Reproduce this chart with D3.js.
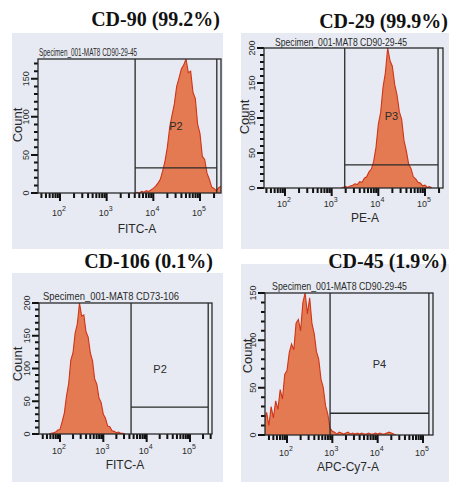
<!DOCTYPE html>
<html lang="en">
<head>
<meta charset="UTF-8">
<title>Flow cytometry histograms</title>
<script src="https://cdn.jsdelivr.net/npm/d3@7"></script>
<style>
  body { margin: 0; background: #fff; }
  svg text { font-family: "Liberation Sans Narrow", "Liberation Sans", Arial, sans-serif; fill: #2a2a2a; }
  .title { font-family: "Liberation Serif", "Times New Roman", serif; font-weight: bold; font-size: 20px; fill: #111; }
</style>
</head>
<body>
<svg id="chart" width="449" height="482"></svg>
<script>
// ---- data ----
const titles = ["CD-90 (99.2%)", "CD-29 (99.9%)", "CD-106 (0.1%)", "CD-45 (1.9%)"];
const specimens = ["Specimen_001-MAT8 CD90-29-45", "Specimen_001-MAT8 CD90-29-45",
                   "Specimen_001-MAT8 CD73-106", "Specimen_001-MAT8 CD90-29-45"];
const axisNames = ["FITC-A", "PE-A", "FITC-A", "APC-Cy7-A"];
const gateNames = ["P2", "P3", "P2", "P4"];
const countMax = [176, 200, 200, 150];
const decades = [2, 3, 4, 5];

// histogram bins: log10(intensity) from binStart, one every binStep
const binStep = 0.05;
const binStart = [3.60, 3.20, 1.75, 1.50];
const cd90Counts = [0, 1, 0, 2, 1, 3, 2, 4, 6, 9, 13, 18, 29, 42, 60, 86, 102, 117, 140, 151,
                    163, 168, 179, 158, 160, 132, 124, 90, 78, 48, 44, 26, 18, 8, 6, 3, 7, 9];
const cd29Counts = [0, 1, 2, 1, 3, 4, 6, 5, 9, 8, 14, 16, 23, 27, 38, 58, 91, 108, 144, 164,
                    208, 182, 174, 148, 133, 109, 98, 68, 53, 34, 28, 16, 13, 8, 7, 3, 4, 1, 2, 0];
const cd106Counts = [0, 1, 2, 3, 6, 7, 19, 32, 58, 77, 113, 124, 154, 168, 208, 180, 182, 156, 148, 124,
                     112, 84, 76, 55, 48, 30, 24, 12, 11, 5, 4, 2, 3, 1, 1, 0];
const cd45Counts = [14, 24, 10, 30, 18, 36, 27, 48, 38, 64, 68, 87, 96, 90, 118, 122, 110, 140, 152, 128,
                    145, 118, 107, 88, 80, 59, 50, 31, 22, 7, 4, 3, 1, 3, 2, 1, 2, 3, 1, 2,
                    1, 2, 1, 2, 1, 1, 2, 1, 1, 2, 1, 2, 1, 1, 2, 3, 2, 1, 0];
const histCounts = [cd90Counts, cd29Counts, cd106Counts, cd45Counts];

// gates: log10 limits and the count level of the bar
const gateLo = [3.61, 3.28, 3.64, 2.95];
const gateHi = [5.36, 5.28, 5.42, 5.13];
const gateCount = [33, 33, 41, 23];
const gateLabelCount = [83, 97, 93, 71];

// ---- layout ----
const layout = [
  {bg: [12, 33, 211, 216], x0: 38, x1: 221, y0: 59, y1: 193, d2: 60, d5: 200,
   titleAt: [220, 26], specAt: [39, 56, 98], decY: 216, nameAt: [137, 233], countAt: [17, 125]},
  {bg: [241, 33, 208, 216], x0: 264, x1: 443, y0: 48, y1: 188, d2: 285, d5: 425,
   titleAt: [448, 28], specAt: [275, 46, 132], decY: 207, nameAt: [365, 222], countAt: [244, 117]},
  {bg: [12, 273, 211, 209], x0: 39, x1: 212, y0: 303, y1: 434, d2: 60, d5: 190,
   titleAt: [213, 268], specAt: [43, 300, 136], decY: 454, nameAt: [125, 469], countAt: [17, 364]},
  {bg: [241, 264, 208, 218], x0: 265, x1: 433, y0: 293, y1: 435, d2: 287, d5: 423,
   titleAt: [447, 268], specAt: [272, 290, 135], decY: 456, nameAt: [348, 471], countAt: [247, 356]}
];

const svg = d3.select("#chart");

layout.forEach((L, i) => {
  const g = svg.append("g");

  const x = d3.scaleLog().domain([1e2, 1e5]).range([L.d2, L.d5]);
  const y = d3.scaleLinear().domain([0, countMax[i]]).range([L.y1, L.y0]);

  // panel background
  g.append("rect")
    .attr("x", L.bg[0]).attr("y", L.bg[1])
    .attr("width", L.bg[2]).attr("height", L.bg[3])
    .attr("fill", "#e7eaf2");

  // title
  g.append("text").attr("class", "title")
    .attr("x", L.titleAt[0]).attr("y", L.titleAt[1])
    .attr("text-anchor", "end")
    .text(titles[i]);

  // specimen name
  g.append("text")
    .attr("x", L.specAt[0]).attr("y", L.specAt[1])
    .attr("font-size", 11)
    .attr("textLength", L.specAt[2]).attr("lengthAdjust", "spacingAndGlyphs")
    .text(specimens[i]);

  // histogram
  const clipId = "clip" + i;
  g.append("clipPath").attr("id", clipId)
    .append("rect")
    .attr("x", L.x0).attr("y", L.y0)
    .attr("width", L.x1 - L.x0).attr("height", L.y1 - L.y0);

  const bins = histCounts[i].map((c, k) => ({v: Math.pow(10, binStart[i] + k * binStep), c: c}));
  const area = d3.area()
    .x(d => x(d.v))
    .y0(y(0))
    .y1(d => y(Math.min(d.c, countMax[i])));
  const line = d3.line()
    .x(d => x(d.v))
    .y(d => y(Math.min(d.c, countMax[i])));

  const hg = g.append("g").attr("clip-path", `url(#${clipId})`);
  hg.append("path").datum(bins)
    .attr("d", area)
    .attr("fill", "#e37a52");
  hg.append("path").datum(bins)
    .attr("d", line)
    .attr("fill", "none")
    .attr("stroke", "#cf3518")
    .attr("stroke-width", 1.1);

  // x axis ticks, hanging below the axis line
  const lo = Math.log10(x.invert(L.x0)), hi = Math.log10(x.invert(L.x1));
  const xticks = [];
  for (let e = 1; e <= 5; e++) {
    for (let m = 1; m <= 9; m++) {
      const lv = e + Math.log10(m);
      if (lv > lo && lv < hi) xticks.push({v: m * Math.pow(10, e), major: m === 1});
    }
  }
  const xTickPath = xticks.map(d => `M${x(d.v)},${L.y1}v${d.major ? 8 : 5}`).join("");
  g.append("path")
    .attr("d", xTickPath)
    .attr("fill", "none")
    .attr("stroke", "#111")
    .attr("stroke-width", 2);

  decades.forEach(e => {
    const t = g.append("text")
      .attr("x", x(Math.pow(10, e)) - 1).attr("y", L.decY)
      .attr("text-anchor", "middle")
      .attr("font-size", 9);
    t.append("tspan").text("10");
    t.append("tspan").attr("dy", -5).attr("font-size", 7).text(e);
  });

  // y axis ticks, to the left of the axis line
  const yticks = d3.range(0, countMax[i] + 1, 10);
  const yTickPath = yticks.map(v => `M${L.x0},${y(v)}h${v % 50 === 0 ? -7 : -4}`).join("");
  g.append("path")
    .attr("d", yTickPath)
    .attr("fill", "none")
    .attr("stroke", "#111")
    .attr("stroke-width", 2);
  yticks.filter(v => v % 50 === 0).forEach(v => {
    g.append("text")
      .attr("transform", `translate(${L.x0 - 9},${y(v)}) rotate(-90)`)
      .attr("text-anchor", "middle")
      .attr("font-size", 9)
      .text(v);
  });

  // frame
  g.append("rect")
    .attr("x", L.x0).attr("y", L.y0)
    .attr("width", L.x1 - L.x0).attr("height", L.y1 - L.y0)
    .attr("fill", "none").attr("stroke", "#2a2a2a").attr("stroke-width", 1.3);

  // gate
  const gx0 = x(Math.pow(10, gateLo[i])), gx1 = x(Math.pow(10, gateHi[i]));
  const gy = y(gateCount[i]);
  g.append("path")
    .attr("d", `M${gx0},${L.y0}V${L.y1}M${gx1},${L.y0}V${L.y1}M${gx0},${gy}H${gx1}`)
    .attr("fill", "none").attr("stroke", "#2a2a2a").attr("stroke-width", 1.3);
  g.append("text")
    .attr("x", i === 2 ? gx0 + 29 : (gx0 + gx1) / 2)
    .attr("y", y(gateLabelCount[i]))
    .attr("text-anchor", "middle")
    .attr("font-size", 11)
    .text(gateNames[i]);

  // axis names
  g.append("text")
    .attr("x", L.nameAt[0]).attr("y", L.nameAt[1])
    .attr("text-anchor", "middle")
    .attr("font-size", 12)
    .text(axisNames[i]);
  g.append("text")
    .attr("transform", `translate(${L.countAt[0]},${L.countAt[1]}) rotate(-90)`)
    .attr("text-anchor", "middle")
    .attr("dy", "0.35em")
    .attr("font-family", "Liberation Sans, Arial, sans-serif")
    .attr("font-size", 13)
    .text("Count");
});
</script>
</body>
</html>
